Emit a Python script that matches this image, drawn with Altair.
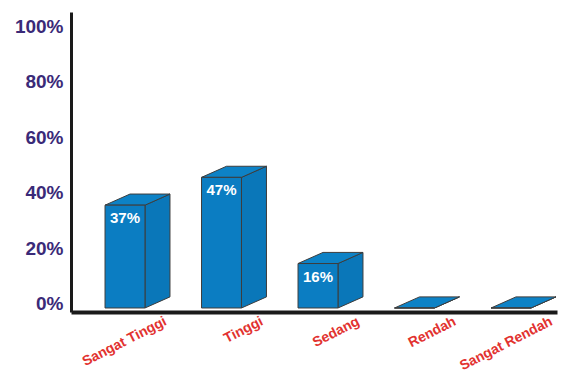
import json
import altair as alt
import pandas as pd

categories = ["Sangat Tinggi", "Tinggi", "Sedang", "Rendah", "Sangat Rendah"]
values = [37, 47, 16, 0, 0]
y_ticks = [0, 20, 40, 60, 80, 100]

# 3D geometry (in data units)
HW = 0.207   # half width of the front face
DX = 0.259   # depth, horizontal
DY = 4.0     # depth, vertical

front_rows, side_rows, top_rows, lab_rows = [], [], [], []
for i, (c, v) in enumerate(zip(categories, values)):
    front_rows.append({"bar": c, "xl": i - HW, "xr": i + HW, "yb": 0, "yt": v})
    side_rows.append({"bar": c, "x": i + HW, "yt": v, "yb": 0})
    side_rows.append({"bar": c, "x": i + HW + DX, "yt": v + DY, "yb": DY})
    top_rows.append({"bar": c, "y": v, "xl": i - HW, "xr": i + HW})
    top_rows.append({"bar": c, "y": v + DY, "xl": i - HW + DX, "xr": i + HW + DX})
    if v > 0:
        lab_rows.append({"bar": c, "x": i, "v": v, "label": f"{v}%"})

front_df = pd.DataFrame(front_rows)
side_df = pd.DataFrame(side_rows)
top_df = pd.DataFrame(top_rows)
lab_df = pd.DataFrame(lab_rows)

x_scale = alt.Scale(domain=[-0.5596, 4.4767], nice=False, zero=False)
y_scale = alt.Scale(domain=[-1.44, 106.5], nice=False, zero=False)

x_axis = alt.Axis(
    values=list(range(len(categories))),
    labelExpr=json.dumps(categories) + "[datum.value]",
    title=None, grid=False, ticks=False, tickSize=0,
    domainColor="#1a1a1a", domainWidth=4,
    labelAngle=-27, labelAlign="right", labelBaseline="top",
    labelOffset=37, labelPadding=2,
    labelColor="#E2322F", labelFont="Liberation Sans", labelFontWeight="bold",
    labelFontSize=14, labelOverlap=False,
)
y_axis = alt.Axis(
    values=y_ticks, labelExpr="datum.value + '%'",
    title=None, grid=False, ticks=False, tickSize=0,
    domainColor="#1a1a1a", domainWidth=3,
    labelColor="#3A2A78", labelFont="Liberation Sans",
    labelFontWeight="bold", labelFontSize=19, labelPadding=8, labelOffset=-4,
)

def X(field):
    return alt.X(field, type="quantitative", scale=x_scale, axis=x_axis)

def Y(field):
    return alt.Y(field, type="quantitative", scale=y_scale, axis=y_axis)

STROKE = "#3d3d3d"

side = alt.Chart(side_df).mark_area(
    color="#0A77B9", stroke=STROKE, strokeWidth=1, orient="vertical"
).encode(x=X("x"), y=Y("yt"), y2="yb", detail="bar:N")

top = alt.Chart(top_df).mark_area(
    color="#0D82C6", stroke=STROKE, strokeWidth=1, orient="horizontal"
).encode(y=Y("y"), x=X("xl"), x2="xr", detail="bar:N")

front = alt.Chart(front_df).mark_rect(
    color="#0B7DC2", stroke=STROKE, strokeWidth=1
).encode(x=X("xl"), x2="xr", y=Y("yb"), y2="yt")

labels = alt.Chart(lab_df).mark_text(
    color="white", font="Liberation Sans",
    fontWeight="bold", fontSize=15, baseline="middle", align="center", dy=13
).encode(x=X("x"), y=Y("v"), text="label:N")

chart = alt.layer(side, top, front, labels).properties(
    width=486, height=300,
    padding={"left": 63, "top": 4, "right": 2, "bottom": 64},
    autosize="none",
    background="white",
).configure_view(stroke=None)

chart.save("out.html", embed_options={"renderer": "svg", "actions": False})
